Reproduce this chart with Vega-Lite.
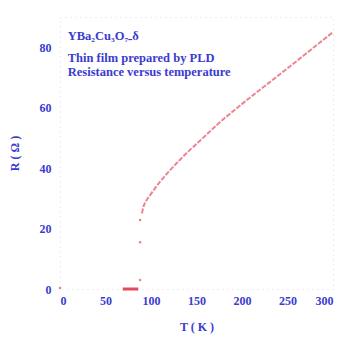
{
  "$schema": "https://vega.github.io/schema/vega-lite/v6.json",
  "width": 273,
  "height": 272,
  "autosize": {"type": "none"},
  "padding": {"left": 60, "top": 17, "right": 21, "bottom": 52},
  "background": "white",
  "config": {
    "view": {"stroke": "#d8d8e8", "strokeDash": [1, 4], "strokeWidth": 1},
    "font": "Liberation Serif"
  },
  "datasets": {
    "curve": [
      {"T": 90, "R": 25},
      {"T": 92, "R": 27.5},
      {"T": 95, "R": 29.3},
      {"T": 100, "R": 31.5},
      {"T": 110, "R": 35.5},
      {"T": 120, "R": 39},
      {"T": 130, "R": 42.2},
      {"T": 140, "R": 45.2},
      {"T": 150, "R": 48},
      {"T": 160, "R": 50.8},
      {"T": 175, "R": 55},
      {"T": 195, "R": 60},
      {"T": 215, "R": 64.8},
      {"T": 235, "R": 69.5},
      {"T": 255, "R": 74.2},
      {"T": 275, "R": 79},
      {"T": 300, "R": 85}
    ],
    "points": [
      {"T": 0, "R": 0.3},
      {"T": 88, "R": 3},
      {"T": 88, "R": 15.5},
      {"T": 88, "R": 22.8}
    ],
    "zero": [
      {"T": 69, "R": 0},
      {"T": 86, "R": 0}
    ],
    "labels": [
      {"T": 8.5, "R": 82.3, "text": "YBa₂Cu₃O₇₋δ"},
      {"T": 8.5, "R": 75.2, "text": "Thin film prepared by PLD"},
      {"T": 8.5, "R": 70.4, "text": "Resistance versus temperature"}
    ]
  },
  "encoding": {
    "x": {
      "field": "T", "type": "quantitative",
      "scale": {"domain": [0, 300], "nice": false},
      "axis": {
        "title": "T ( K )", "values": [0, 50, 100, 150, 200, 250, 300],
        "grid": false, "domain": false, "ticks": false,
        "labelPadding": 6, "labelFontSize": 12, "labelFontWeight": "bold",
        "labelColor": "#3b3bcf", "labelFont": "Liberation Serif",
        "titleFont": "Liberation Serif", "titleFontSize": 12, "titleFontWeight": "bold",
        "titleColor": "#3b3bcf", "titlePadding": 15
      }
    },
    "y": {
      "field": "R", "type": "quantitative",
      "scale": {"domain": [0, 90], "nice": false},
      "axis": {
        "title": "R ( Ω )", "values": [0, 20, 40, 60, 80],
        "grid": false, "domain": false, "ticks": false,
        "labelPadding": 9, "labelFontSize": 12, "labelFontWeight": "bold",
        "labelColor": "#3b3bcf", "labelFont": "Liberation Serif",
        "titleFont": "Liberation Serif", "titleFontSize": 12, "titleFontWeight": "bold",
        "titleColor": "#3b3bcf", "titlePadding": 18
      }
    }
  },
  "layer": [
    {
      "data": {"name": "curve"},
      "mark": {"type": "line", "color": "#e8707e", "strokeWidth": 2, "strokeDash": [5, 1.5], "opacity": 0.85, "interpolate": "monotone"}
    },
    {
      "data": {"name": "zero"},
      "mark": {"type": "line", "color": "#e04a5a", "strokeWidth": 3}
    },
    {
      "data": {"name": "points"},
      "mark": {"type": "circle", "color": "#e06070", "size": 6, "opacity": 0.8}
    },
    {
      "data": {"name": "labels"},
      "mark": {"type": "text", "align": "left", "baseline": "alphabetic", "font": "Liberation Serif", "fontSize": 12.5, "fontWeight": "bold", "color": "#3b3bcf"},
      "encoding": {"text": {"field": "text"}}
    }
  ]
}
